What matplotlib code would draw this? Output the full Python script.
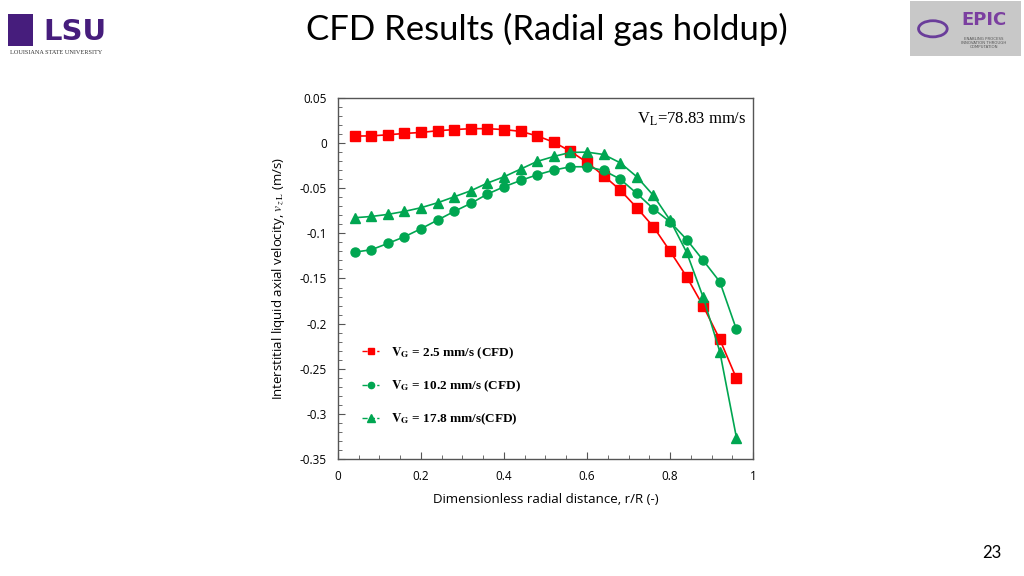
import matplotlib.pyplot as plt
from matplotlib.patches import Rectangle, Circle
from matplotlib.lines import Line2D

plt.rcParams['axes.unicode_minus'] = False
plt.rcParams['mathtext.fontset'] = 'stix'

# radial positions r/R
r = [0.04, 0.08, 0.12, 0.16, 0.20, 0.24, 0.28, 0.32, 0.36, 0.40, 0.44, 0.48,
     0.52, 0.56, 0.60, 0.64, 0.68, 0.72, 0.76, 0.80, 0.84, 0.88, 0.92, 0.96]

# axial liquid velocity (m/s)
vg_2_5 = [0.0078, 0.0080, 0.0092, 0.0107, 0.0118, 0.0137, 0.0150, 0.0160,
          0.0160, 0.0150, 0.0130, 0.0080, 0.0010, -0.0090, -0.0214, -0.0360,
          -0.0520, -0.0716, -0.0927, -0.1197, -0.1480, -0.1806, -0.2175, -0.2607]
vg_10_2 = [-0.1208, -0.1182, -0.1112, -0.1038, -0.0949, -0.0853, -0.0757, -0.0668,
           -0.0565, -0.0484, -0.0414, -0.0351, -0.0299, -0.0262, -0.0262, -0.0303,
           -0.0399, -0.0558, -0.0728, -0.0872, -0.1068, -0.1300, -0.1537, -0.2065]
vg_17_8 = [-0.0827, -0.0813, -0.0790, -0.0757, -0.0716, -0.0661, -0.0595, -0.0528,
           -0.0443, -0.0373, -0.0288, -0.0203, -0.0148, -0.0103, -0.0100, -0.0126,
           -0.0218, -0.0373, -0.0580, -0.0853, -0.1210, -0.1710, -0.2312, -0.3263]

labels = [r'$\mathbf{V}_{\mathbf{G}}$ = 2.5 mm/s (CFD)',
          r'$\mathbf{V}_{\mathbf{G}}$ = 10.2 mm/s (CFD)',
          r'$\mathbf{V}_{\mathbf{G}}$ = 17.8 mm/s(CFD)']

xticks = [0, 0.2, 0.4, 0.6, 0.8, 1]
xticklabels = ['0', '0.2', '0.4', '0.6', '0.8', '1']
yticks = [0.05, 0, -0.05, -0.1, -0.15, -0.2, -0.25, -0.3, -0.35]
yticklabels = ['0.05', '0', '-0.05', '-0.1', '-0.15', '-0.2', '-0.25', '-0.3', '-0.35']

red = '#ff0000'
green = '#00a651'

fig = plt.figure(figsize=(10.24, 5.76), dpi=100)
ax = fig.add_axes([0.330, 0.2031, 0.4054, 0.6268])

ax.plot(r, vg_2_5, color=red, marker='s', markersize=7, linewidth=1.2)
ax.plot(r, vg_10_2, color=green, marker='o', markersize=6.5, linewidth=1.2)
ax.plot(r, vg_17_8, color=green, marker='^', markersize=6.5, linewidth=1.2)

ax.set_xlim(0, 1)
ax.set_ylim(-0.35, 0.05)
ax.set_xticks(xticks)
ax.set_xticklabels(xticklabels, family='Open Sans', fontsize=8.5)
ax.set_yticks(yticks)
ax.set_yticklabels(yticklabels, family='Open Sans', fontsize=8.5)
ax.set_xticks([i * 0.05 for i in range(21)], minor=True)
ax.set_yticks([-0.35 + i * 0.01 for i in range(41)], minor=True)
ax.tick_params(which='both', direction='in', color='#555555')
ax.tick_params(which='major', length=5, pad=8)
ax.tick_params(which='minor', length=3)
for s in ax.spines.values():
    s.set_color('#555555')
    s.set_linewidth(1.0)

ax.set_xlabel('Dimensionless radial distance, r/R (-)', family='Open Sans', fontsize=9.5, labelpad=7)
ax.set_ylabel(r'Interstitial liquid axial velocity, $\mathit{v}_{\,z\,\mathrm{L}}$ (m/s)',
              family='Open Sans', fontsize=9.5, labelpad=9)

ax.text(0.985, 0.965, r'V$_\mathrm{L}$=78.83 mm/s', transform=ax.transAxes, ha='right', va='top',
        family='Liberation Serif', fontsize=12)

handles = [Line2D([], [], color=red, marker='s', markersize=5, linestyle='--', linewidth=1),
           Line2D([], [], color=green, marker='o', markersize=4.5, linestyle='--', linewidth=1),
           Line2D([], [], color=green, marker='^', markersize=6, linestyle='--', linewidth=1)]
ax.legend(handles, labels, loc='lower left', bbox_to_anchor=(0.03, 0.055), frameon=False,
          handlelength=1.3, labelspacing=1.35, handletextpad=0.9,
          prop={'family': 'Liberation Serif', 'weight': 'bold', 'size': 9.5})

fig.text(0.534, 0.949, 'CFD Results (Radial gas holdup)', ha='center', va='center',
         family='Lato', fontsize=25)
fig.text(0.969, 0.04, '23', ha='center', va='center', family='Lato', fontsize=12)

# LSU logo approximation
fig.text(0.073, 0.945, 'LSU', ha='center', va='center', family='DejaVu Sans',
         fontweight='bold', fontsize=21, color='#461d7c')
fig.text(0.055, 0.908, 'LOUISIANA STATE UNIVERSITY', ha='center', va='center',
         family='Liberation Serif', fontsize=4.5, color='#333333')
fig.patches.append(Rectangle((0.008, 0.92), 0.024, 0.055, transform=fig.transFigure,
                             facecolor='#461d7c', edgecolor='none'))

# EPIC logo approximation
fig.patches.append(Rectangle((0.889, 0.903), 0.108, 0.095, transform=fig.transFigure,
                             facecolor='#c8c8c8', edgecolor='none'))
fig.patches.append(Circle((0.911, 0.95), 0.014, transform=fig.transFigure,
                          facecolor='none', edgecolor='#6a3d9a', linewidth=2))
fig.text(0.961, 0.965, 'EPIC', ha='center', va='center', family='DejaVu Sans',
         fontweight='bold', fontsize=13, color='#7b3fa0')
fig.text(0.961, 0.925, 'ENABLING PROCESS\nINNOVATION THROUGH\nCOMPUTATION', ha='center', va='center',
         family='DejaVu Sans', fontsize=2.8, color='#555555', linespacing=1.1)

fig.savefig('out.png', dpi=100)
